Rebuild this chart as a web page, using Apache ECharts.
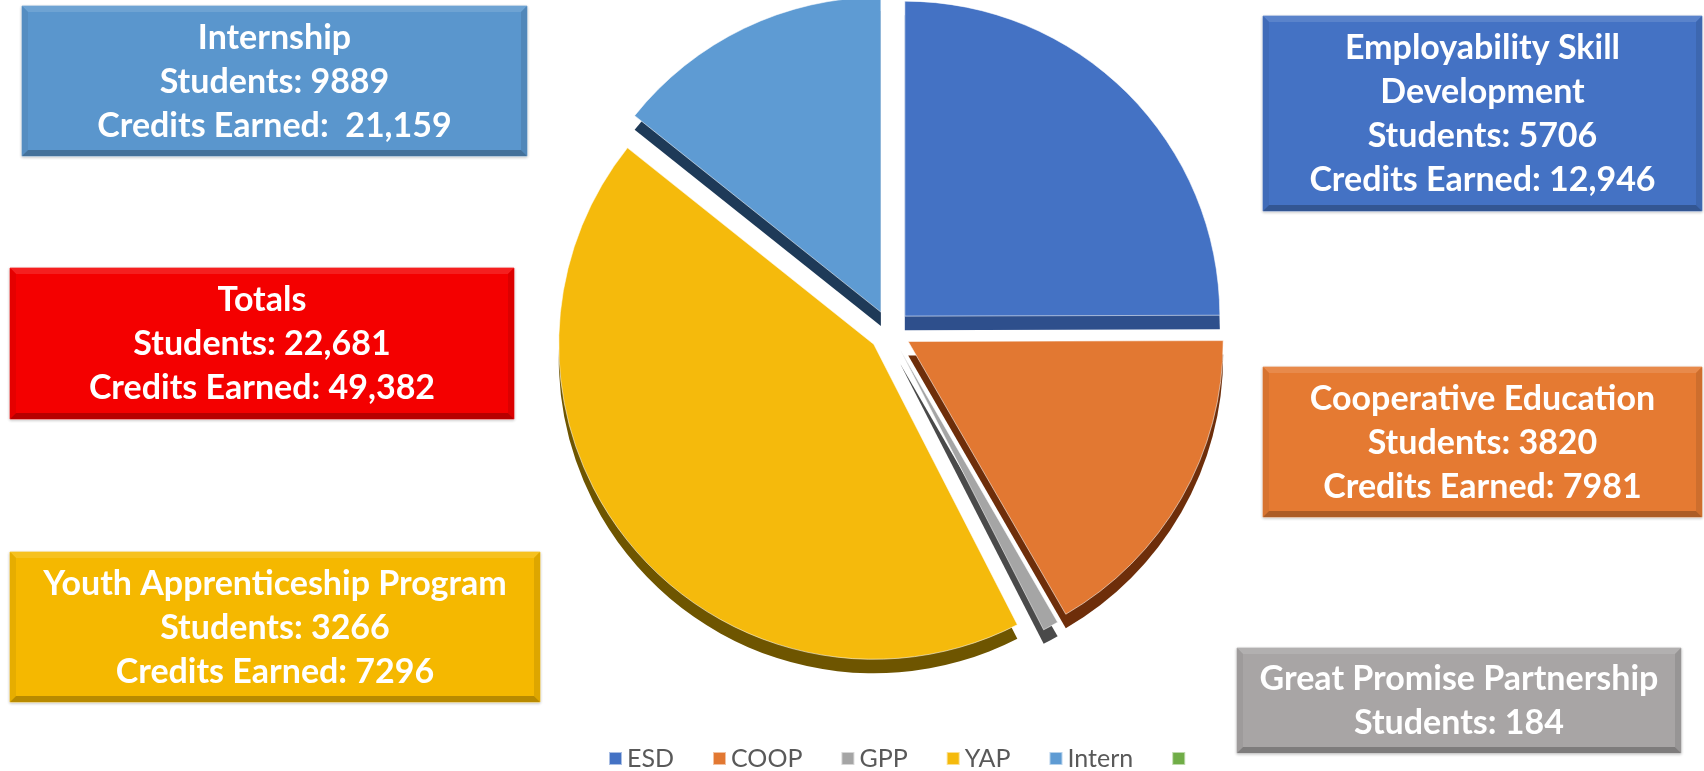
<!DOCTYPE html>
<html>
<head>
<meta charset="utf-8">
<script src="https://cdn.jsdelivr.net/npm/echarts@6/dist/echarts.min.js"></script>
<style>
html,body{margin:0;padding:0;background:#fff;}
#chart{width:1704px;height:771px;}
</style>
</head>
<body>
<div id="chart"></div>
<script>
// ---- data ----
const legendNames = ['ESD', 'COOP', 'GPP', 'YAP', 'Intern', ' '];
const sliceValues = [5706, 3820, 184, 9889, 3266];
const faceColors = ['#4472C4', '#E27832', '#A5A5A5', '#F5BA0C', '#5E9BD3', '#70AD47'];
const sideColors = ['#2E4F8C', '#6E2E0A', '#4A4A4A', '#6E5500', '#1E3A58'];

const boxTitles = ['Internship', 'Totals', 'Youth Apprenticeship Program', 'Employability Skill\nDevelopment', 'Cooperative Education', 'Great Promise Partnership'];
const boxStudents = ['9889', '22,681', '3266', '5706', '3820', '184'];
const boxCredits = [' 21,159', '49,382', '7296', '12,946', '7981', null];
const boxColors = ['#5A96CD', '#F40000', '#F5B800', '#4472C4', '#E57A32', '#A8A5A5'];

// ---- layout (px) ----
const boxRects = [
  [22, 6, 505, 150],
  [10, 268, 504, 151],
  [10, 552, 530, 150],
  [1263, 16, 439, 195],
  [1263, 367, 439, 150],
  [1237, 648, 444, 105]
];

function shade(hex, f) {
  const n = parseInt(hex.slice(1), 16);
  let r = (n >> 16) & 255, g = (n >> 8) & 255, b = n & 255;
  if (f < 0) { r *= 1 + f; g *= 1 + f; b *= 1 + f; }
  else { r += (255 - r) * f; g += (255 - g) * f; b += (255 - b) * f; }
  return 'rgb(' + Math.round(r) + ',' + Math.round(g) + ',' + Math.round(b) + ')';
}

const chart = echarts.init(document.getElementById('chart'));

const graphics = [];
boxRects.forEach((r, i) => {
  const [x, y, w, h] = r;
  const c = boxColors[i];
  const t = 6;
  graphics.push({
    type: 'rect', shape: { x: x, y: y, width: w, height: h },
    style: { fill: c, stroke: shade(c, 0.35), lineWidth: 1, shadowBlur: 3, shadowColor: 'rgba(0,0,0,0.2)', shadowOffsetY: 1 }, z: 10
  });
  // bevel edges
  graphics.push({ type: 'polygon', shape: { points: [[x, y], [x + w, y], [x + w - t, y + t], [x + t, y + t]] }, style: { fill: shade(c, 0.12) }, z: 11 });
  graphics.push({ type: 'polygon', shape: { points: [[x, y], [x + t, y + t], [x + t, y + h - t], [x, y + h]] }, style: { fill: shade(c, -0.06) }, z: 11 });
  graphics.push({ type: 'polygon', shape: { points: [[x + w, y], [x + w, y + h], [x + w - t, y + h - t], [x + w - t, y + t]] }, style: { fill: shade(c, -0.1) }, z: 11 });
  graphics.push({ type: 'polygon', shape: { points: [[x, y + h], [x + w, y + h], [x + w - t, y + h - t], [x + t, y + h - t]] }, style: { fill: shade(c, -0.25) }, z: 11 });
  let lines = boxTitles[i] + '\nStudents: ' + boxStudents[i];
  if (boxCredits[i] !== null) lines += '\nCredits Earned: ' + boxCredits[i];
  graphics.push({
    type: 'text', x: x + w / 2, y: y + h / 2 + 1,
    style: {
      text: lines, x: 0, y: 0, fill: '#ffffff',
      font: 'bold 34px Lato', lineHeight: 44,
      align: 'center', verticalAlign: 'middle'
    }, z: 12
  });
});

const faceData = sliceValues.map((v, i) => ({
  name: legendNames[i], value: v, selected: true,
  itemStyle: { color: faceColors[i] }
}));
const sideData = sliceValues.map((v, i) => ({
  name: legendNames[i], value: v, selected: true,
  itemStyle: { color: sideColors[i] }
}));

chart.setOption({
  backgroundColor: '#ffffff',
  animation: false,
  legend: {
    data: legendNames.map((n, i) => ({ name: n, itemStyle: { color: faceColors[i] } })),
    left: 603, top: 741, icon: 'rect', itemWidth: 13, itemHeight: 13, itemGap: 38,
    textStyle: { fontFamily: 'Lato', fontSize: 25, color: '#595959' }
  },
  graphic: graphics,
  series: [
    {
      type: 'pie', z: 3, silent: true, selectedMode: 'multiple', selectedOffset: 21,
      center: [890, 331], radius: [0, 315], startAngle: 90, clockwise: true,
      label: { show: false }, labelLine: { show: false },
      itemStyle: { borderColor: 'rgba(255,255,255,0.55)', borderWidth: 1 },
      data: faceData.concat([{ name: legendNames[5], value: 0, itemStyle: { color: faceColors[5] } }])
    },
    {
      type: 'pie', z: 2, silent: true, selectedMode: 'multiple', selectedOffset: 21,
      center: [890, 345], radius: [0, 315], startAngle: 90, clockwise: true,
      label: { show: false }, labelLine: { show: false },
      itemStyle: { borderWidth: 0 },
      data: sideData
    }
  ]
});
</script>
</body>
</html>
